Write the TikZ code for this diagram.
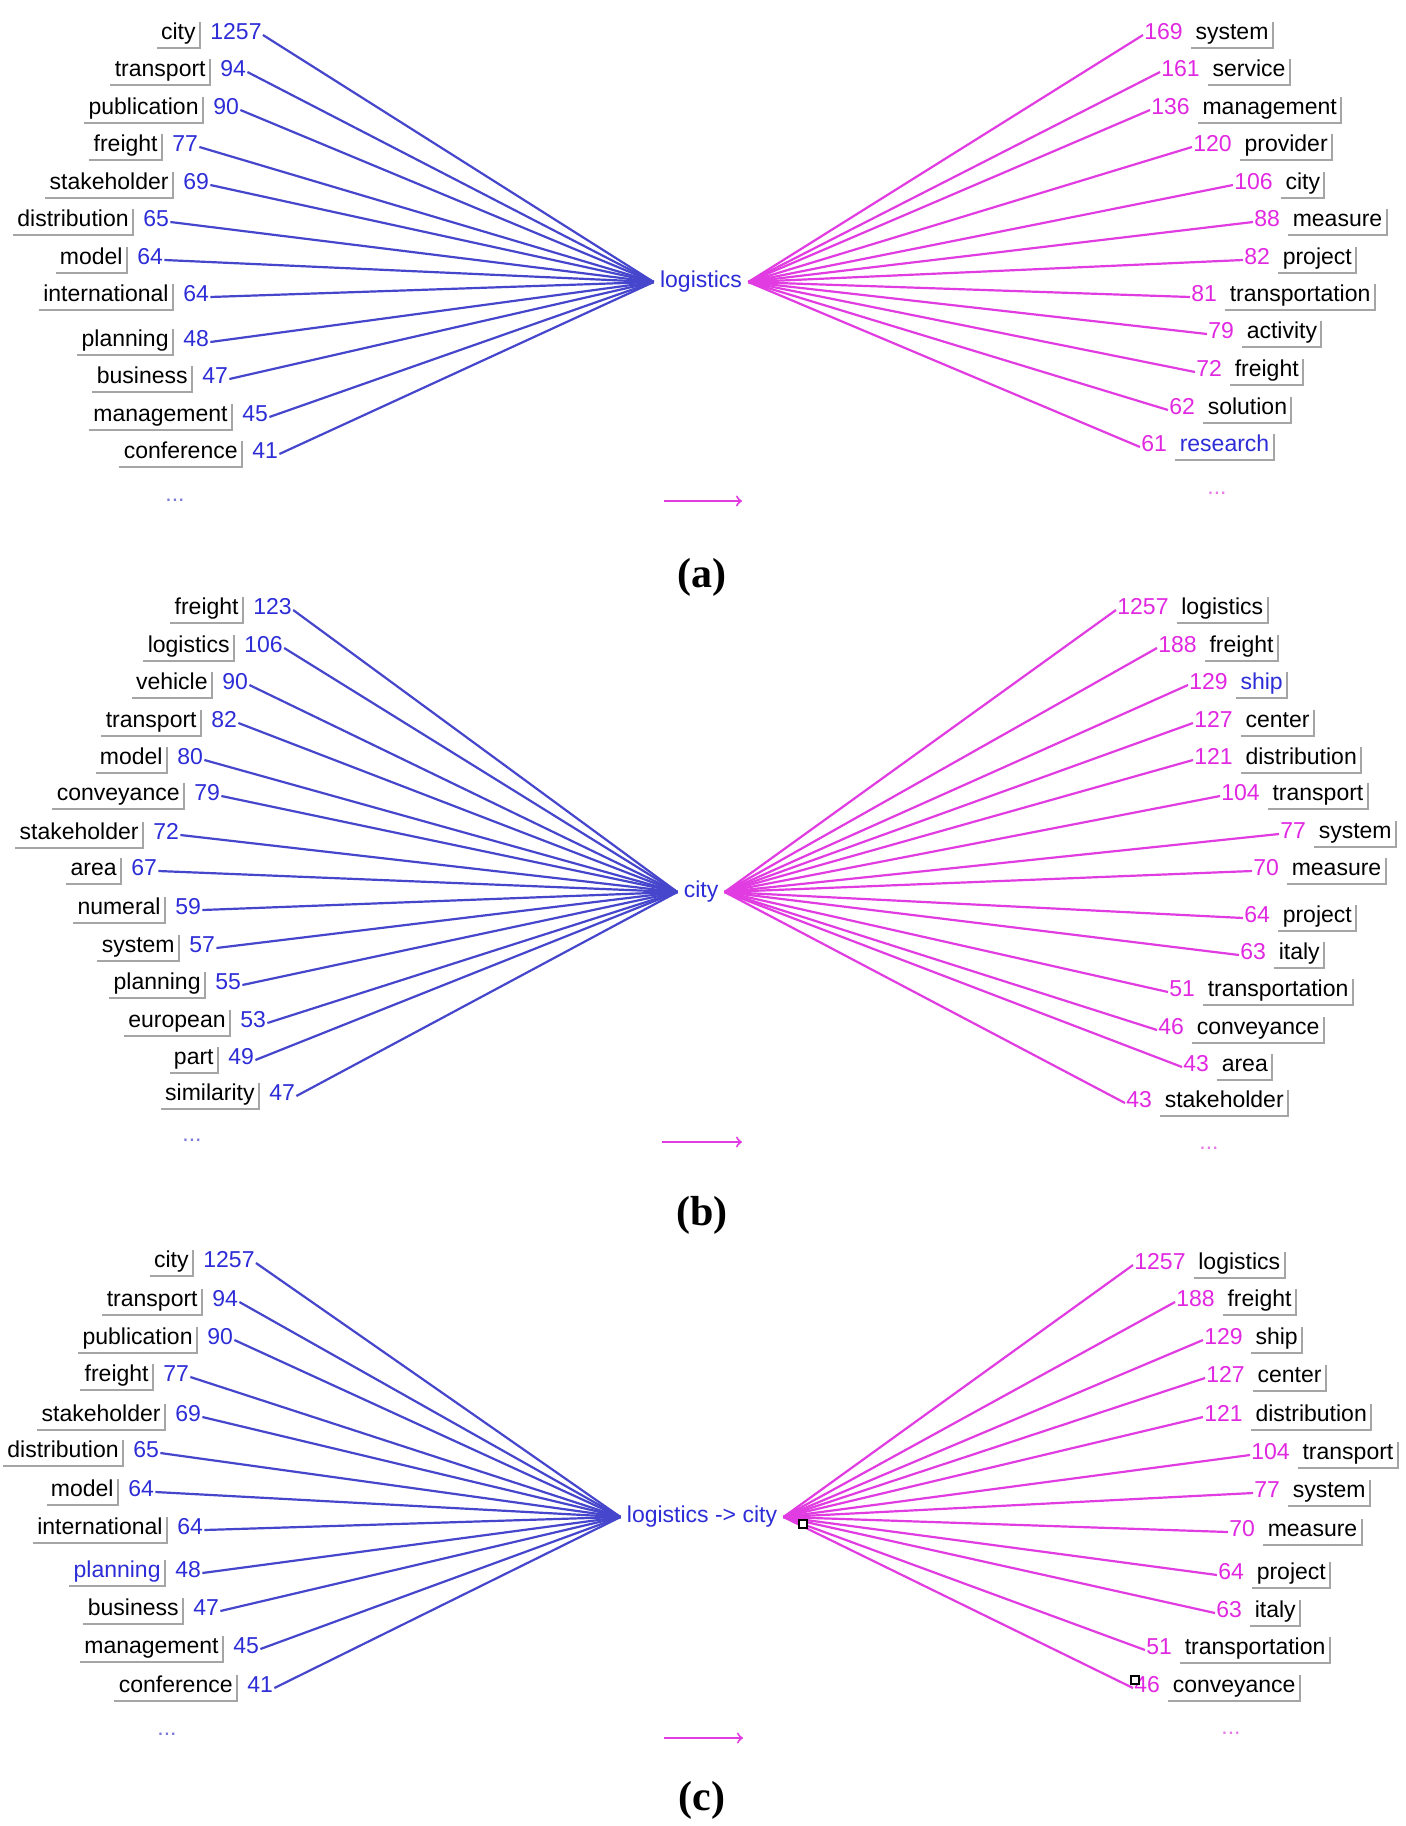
\documentclass[tikz,border=0pt]{standalone}
\usepackage{fontspec}
\setmainfont{Liberation Sans}
\newfontfamily\capfont{Liberation Serif}
\usetikzlibrary{positioning}

\definecolor{numblue}{RGB}{45,45,215}
\definecolor{lineblue}{RGB}{70,70,205}
\definecolor{nummag}{RGB}{225,40,225}
\definecolor{linemag}{RGB}{225,60,225}
\definecolor{boxgray}{RGB}{165,165,165}
\definecolor{dotblue}{RGB}{120,120,220}
\definecolor{dotmag}{RGB}{230,120,230}

\newcommand{\wordfont}{\fontsize{11.5}{13}\selectfont}

\tikzset{
  word/.style={font=\wordfont, inner xsep=2pt, inner ysep=1.5pt, text height=7pt, text depth=2.5pt},
  numL/.style={font=\wordfont, text=numblue, inner sep=0.5pt, text height=7pt, text depth=2.5pt},
  numR/.style={font=\wordfont, text=nummag, inner sep=0.5pt, text height=7pt, text depth=2.5pt},
  boxline/.style={draw=boxgray, line width=1pt},
  linkL/.style={draw=lineblue, line width=1.1pt},
  linkR/.style={draw=linemag, line width=1.1pt},
  hub/.style={font=\wordfont, text=numblue, inner xsep=3pt},
  moreL/.style={font=\wordfont, text=dotblue, anchor=base},
  moreR/.style={font=\wordfont, text=dotmag, anchor=base},
  flow/.style={->, draw=linemag, line width=1pt},
  handle/.style={draw=black, fill=white, minimum size=4pt, inner sep=0pt, line width=0.6pt},
  caption/.style={font=\capfont\bfseries\fontsize{21}{24}\selectfont},
}

% left word: [colour]{hub}{name}{y}{x of box edge}{word}{count}
\newcommand{\wordL}[7][black]{%
  \node[word, text=#1, anchor=east] (#3) at (#5,#4) {#6};
  \draw[boxline] (#3.south west) -- (#3.south east) -- (#3.north east);
  \node[numL, right=4.5pt of #3] (#3n) {#7};
  \draw[linkL] (#3n.east) -- (#2.west);
}
% right word: [colour]{hub}{name}{y}{x of count}{count}{word}
\newcommand{\wordR}[7][black]{%
  \node[numR, anchor=west] (#3n) at (#5,#4) {#6};
  \node[word, text=#1, right=3.5pt of #3n] (#3) {#7};
  \draw[boxline] (#3.south west) -- (#3.south east) -- (#3.north east);
  \draw[linkR] (#2.east) -- (#3n.west);
}

\begin{document}
\begin{tikzpicture}[x=0.5pt, y=-0.5pt]
\fill[white] (0,0) rectangle (1406,1826);
\useasboundingbox (0,0) rectangle (1406,1826);

% (a) logistics
\node[hub] (hubA) at (701,282) {logistics};
\wordL{hubA}{aL1}{35}{200}{city}{1257}
\wordL{hubA}{aL2}{72}{210}{transport}{94}
\wordL{hubA}{aL3}{110}{203}{publication}{90}
\wordL{hubA}{aL4}{147}{162}{freight}{77}
\wordL{hubA}{aL5}{185}{173}{stakeholder}{69}
\wordL{hubA}{aL6}{222}{133}{distribution}{65}
\wordL{hubA}{aL7}{260}{127}{model}{64}
\wordL{hubA}{aL8}{297}{173}{international}{64}
\wordL{hubA}{aL9}{342}{173}{planning}{48}
\wordL{hubA}{aL10}{379}{192}{business}{47}
\wordL{hubA}{aL11}{417}{232}{management}{45}
\wordL{hubA}{aL12}{454}{242}{conference}{41}
\wordR{hubA}{aR1}{35}{1143}{169}{system}
\wordR{hubA}{aR2}{72}{1160}{161}{service}
\wordR{hubA}{aR3}{110}{1150}{136}{management}
\wordR{hubA}{aR4}{147}{1192}{120}{provider}
\wordR{hubA}{aR5}{185}{1233}{106}{city}
\wordR{hubA}{aR6}{222}{1253}{88}{measure}
\wordR{hubA}{aR7}{260}{1243}{82}{project}
\wordR{hubA}{aR8}{297}{1190}{81}{transportation}
\wordR{hubA}{aR9}{334}{1207}{79}{activity}
\wordR{hubA}{aR10}{372}{1195}{72}{freight}
\wordR{hubA}{aR11}{410}{1168}{62}{solution}
\wordR[numblue]{hubA}{aR12}{447}{1140}{61}{research}
\node[moreL] (aLmore) at (175,501) {...};
\node[moreR] (aRmore) at (1217,494) {...};
\coordinate (aA1) at (664,501);
\coordinate (aA2) at (742,501);
\draw[flow] (aA1) -- (aA2);
\node[caption] (capA) at (702,577) {(a)};

% (b) city
\node[hub] (hubB) at (701,892) {city};
\wordL{hubB}{bL1}{610}{243}{freight}{123}
\wordL{hubB}{bL2}{648}{234}{logistics}{106}
\wordL{hubB}{bL3}{685}{212}{vehicle}{90}
\wordL{hubB}{bL4}{723}{201}{transport}{82}
\wordL{hubB}{bL5}{760}{167}{model}{80}
\wordL{hubB}{bL6}{796}{184}{conveyance}{79}
\wordL{hubB}{bL7}{835}{143}{stakeholder}{72}
\wordL{hubB}{bL8}{871}{121}{area}{67}
\wordL{hubB}{bL9}{910}{165}{numeral}{59}
\wordL{hubB}{bL10}{948}{179}{system}{57}
\wordL{hubB}{bL11}{985}{205}{planning}{55}
\wordL{hubB}{bL12}{1023}{230}{european}{53}
\wordL{hubB}{bL13}{1060}{218}{part}{49}
\wordL{hubB}{bL14}{1096}{259}{similarity}{47}
\wordR{hubB}{bR1}{610}{1116}{1257}{logistics}
\wordR{hubB}{bR2}{648}{1157}{188}{freight}
\wordR[numblue]{hubB}{bR3}{685}{1188}{129}{ship}
\wordR{hubB}{bR4}{723}{1193}{127}{center}
\wordR{hubB}{bR5}{760}{1193}{121}{distribution}
\wordR{hubB}{bR6}{796}{1220}{104}{transport}
\wordR{hubB}{bR7}{834}{1279}{77}{system}
\wordR{hubB}{bR8}{871}{1252}{70}{measure}
\wordR{hubB}{bR9}{918}{1243}{64}{project}
\wordR{hubB}{bR10}{955}{1239}{63}{italy}
\wordR{hubB}{bR11}{992}{1168}{51}{transportation}
\wordR{hubB}{bR12}{1030}{1157}{46}{conveyance}
\wordR{hubB}{bR13}{1067}{1182}{43}{area}
\wordR{hubB}{bR14}{1103}{1125}{43}{stakeholder}
\node[moreL] (bLmore) at (192,1141) {...};
\node[moreR] (bRmore) at (1209,1149) {...};
\coordinate (bA1) at (662,1142);
\coordinate (bA2) at (742,1142);
\draw[flow] (bA1) -- (bA2);
\node[caption] (capB) at (702,1215) {(b)};

% (c) logistics -> city
\node[hub] (hubC) at (702,1517) {logistics -> city};
\wordL{hubC}{cL1}{1263}{193}{city}{1257}
\wordL{hubC}{cL2}{1302}{202}{transport}{94}
\wordL{hubC}{cL3}{1340}{197}{publication}{90}
\wordL{hubC}{cL4}{1377}{153}{freight}{77}
\wordL{hubC}{cL5}{1417}{165}{stakeholder}{69}
\wordL{hubC}{cL6}{1453}{123}{distribution}{65}
\wordL{hubC}{cL7}{1492}{118}{model}{64}
\wordL{hubC}{cL8}{1530}{167}{international}{64}
\wordL[numblue]{hubC}{cL9}{1573}{165}{planning}{48}
\wordL{hubC}{cL10}{1611}{183}{business}{47}
\wordL{hubC}{cL11}{1649}{223}{management}{45}
\wordL{hubC}{cL12}{1688}{237}{conference}{41}
\wordR{hubC}{cR1}{1265}{1133}{1257}{logistics}
\wordR{hubC}{cR2}{1302}{1175}{188}{freight}
\wordR{hubC}{cR3}{1340}{1203}{129}{ship}
\wordR{hubC}{cR4}{1378}{1205}{127}{center}
\wordR{hubC}{cR5}{1417}{1203}{121}{distribution}
\wordR{hubC}{cR6}{1455}{1250}{104}{transport}
\wordR{hubC}{cR7}{1493}{1253}{77}{system}
\wordR{hubC}{cR8}{1532}{1228}{70}{measure}
\wordR{hubC}{cR9}{1575}{1217}{64}{project}
\wordR{hubC}{cR10}{1613}{1215}{63}{italy}
\wordR{hubC}{cR11}{1650}{1145}{51}{transportation}
\wordR{hubC}{cR12}{1688}{1133}{46}{conveyance}
\node[handle] (cSel1) at (803,1524) {};
\node[handle] (cSel2) at (1135,1680) {};
\node[moreL] (cLmore) at (167,1735) {...};
\node[moreR] (cRmore) at (1231,1734) {...};
\coordinate (cA1) at (664,1738);
\coordinate (cA2) at (743,1738);
\draw[flow] (cA1) -- (cA2);
\node[caption] (capC) at (702,1800) {(c)};
\end{tikzpicture}
\end{document}
